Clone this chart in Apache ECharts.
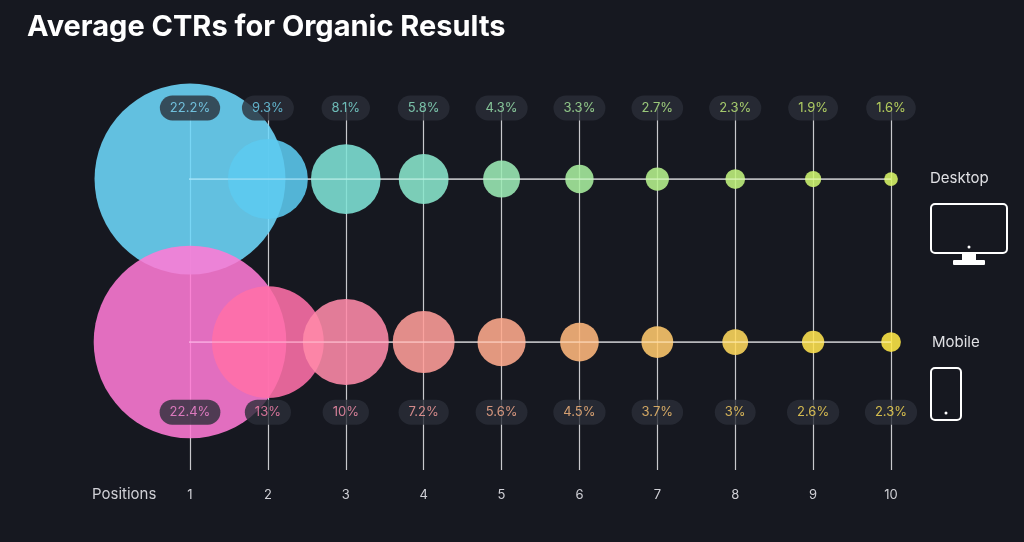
<!DOCTYPE html>
<html><head><meta charset="utf-8">
<script src="https://cdn.jsdelivr.net/npm/echarts@6/dist/echarts.min.js"></script>
<style>html,body{margin:0;background:#161820;}#c{width:1024px;height:542px;}</style>
</head><body><div id="c"></div>
<script>
const positions = [1,2,3,4,5,6,7,8,9,10];
const desktopCTR = [22.2,9.3,8.1,5.8,4.3,3.3,2.7,2.3,1.9,1.6];
const mobileCTR = [22.4,13,10,7.2,5.6,4.5,3.7,3,2.6,2.3];
const desktopLabels = ['22.2%','9.3%','8.1%','5.8%','4.3%','3.3%','2.7%','2.3%','1.9%','1.6%'];
const mobileLabels = ['22.4%','13%','10%','7.2%','5.6%','4.5%','3.7%','3%','2.6%','2.3%'];
const desktopColors = ['#6dd7fb','#5cc9ef','#7fe3d6','#8ae6cc','#9cebb5','#a8ee9e','#b6f18c','#c2f37d','#cef56f','#d8f567'];
const mobileColors = ['#ff7ad5','#ff6fa8','#ff8aa8','#ff9d98','#ffaa8c','#ffb77c','#ffc86c','#ffd85c','#ffe24e','#ffe745'];
const desktopLabelColors = ['#7fdcfb','#6fd2ee','#7fe0d8','#8fe6c6','#9eeab2','#aaed9e','#b8f08c','#c4f27c','#cef36e','#d6f466'];
const mobileLabelColors = ['#ff8ad8','#ff85b2','#ff95b0','#ffa3a0','#ffb090','#ffbb80','#ffc870','#ffd462','#ffdd58','#ffe152'];
const DESK_Y = 1, MOB_Y = 0, TOP_LABEL_Y = 1.436, BOT_LABEL_Y = -0.43;
const SCALE = 8.6;

const chart = echarts.init(document.getElementById('c'));
const bubble = (vals, y, cols) => vals.map((v,i)=>({value:[positions[i],y,v],symbolSize:v*SCALE,itemStyle:{color:cols[i],opacity:0.88}}));
const labels = (labs, y, cols) => labs.map((l,i)=>({value:[positions[i],y],label:{formatter:l,color:cols[i]}}));
const labelStyle = {show:true,position:'inside',backgroundColor:'#2b2e38',padding:[6,10],borderRadius:13,fontSize:13,fontFamily:'Inter'};
chart.setOption({
  backgroundColor:'#161820',
  animation:false,
  title:{text:'Average CTRs for Organic Results',left:22,top:8,textStyle:{color:'#ffffff',fontSize:29,fontWeight:'bold',fontFamily:'Inter'}},
  grid:{left:190,right:133,top:108,bottom:72},
  xAxis:{type:'value',min:1,max:10,interval:1,axisLine:{show:false},axisTick:{show:false},
    axisLabel:{color:'#d0d0d6',fontSize:13,margin:19,fontFamily:'Inter'},
    splitLine:{show:true,lineStyle:{color:'#c8c8cc',width:1.2}}},
  yAxis:{type:'value',min:-0.785,max:1.436,show:false,splitLine:{show:false}},
  series:[
    {type:'line',data:[[-0.22,DESK_Y],[10,DESK_Y]],symbol:'none',clip:false,lineStyle:{color:'#c8c8cc',width:1.2},z:1},
    {type:'line',data:[[-0.22,MOB_Y],[10,MOB_Y]],symbol:'none',clip:false,lineStyle:{color:'#c8c8cc',width:1.2},z:1},
    {type:'scatter',data:bubble(desktopCTR,DESK_Y,desktopColors),clip:false,z:2},
    {type:'scatter',data:bubble(mobileCTR,MOB_Y,mobileColors),clip:false,z:3},
    {type:'line',data:[[-0.22,DESK_Y],[10,DESK_Y]],symbol:'none',clip:false,lineStyle:{color:'rgba(255,255,255,0.5)',width:1},z:4},
    {type:'line',data:[[-0.22,MOB_Y],[10,MOB_Y]],symbol:'none',clip:false,lineStyle:{color:'rgba(255,255,255,0.5)',width:1},z:4},
    {type:'scatter',data:labels(desktopLabels,TOP_LABEL_Y,desktopLabelColors),symbolSize:1,itemStyle:{color:'transparent'},clip:false,label:labelStyle,z:5},
    {type:'scatter',data:labels(mobileLabels,BOT_LABEL_Y,mobileLabelColors),symbolSize:1,itemStyle:{color:'transparent'},clip:false,label:labelStyle,z:5}
  ],
  graphic:[
    {type:'text',left:92,top:487,style:{text:'Positions',fill:'#d0d0d6',fontSize:15,fontFamily:'Inter'}},
    {type:'text',left:930,top:171,style:{text:'Desktop',fill:'#e0e0e4',fontSize:15,fontFamily:'Inter'}},
    {type:'text',left:932,top:335,style:{text:'Mobile',fill:'#e0e0e4',fontSize:15,fontFamily:'Inter'}},
    {type:'rect',shape:{x:931,y:204,width:76,height:49,r:4},style:{fill:'none',stroke:'#ffffff',lineWidth:2}},
    {type:'circle',shape:{cx:969,cy:247,r:1.5},style:{fill:'#ffffff'}},
    {type:'rect',shape:{x:962,y:253,width:14,height:8},style:{fill:'#ffffff'}},
    {type:'rect',shape:{x:953,y:260,width:32,height:5,r:1},style:{fill:'#ffffff'}},
    {type:'rect',shape:{x:931,y:368,width:30,height:52,r:4},style:{fill:'none',stroke:'#ffffff',lineWidth:2}},
    {type:'circle',shape:{cx:946,cy:413,r:1.5},style:{fill:'#ffffff'}}
  ]
});
</script></body></html>
